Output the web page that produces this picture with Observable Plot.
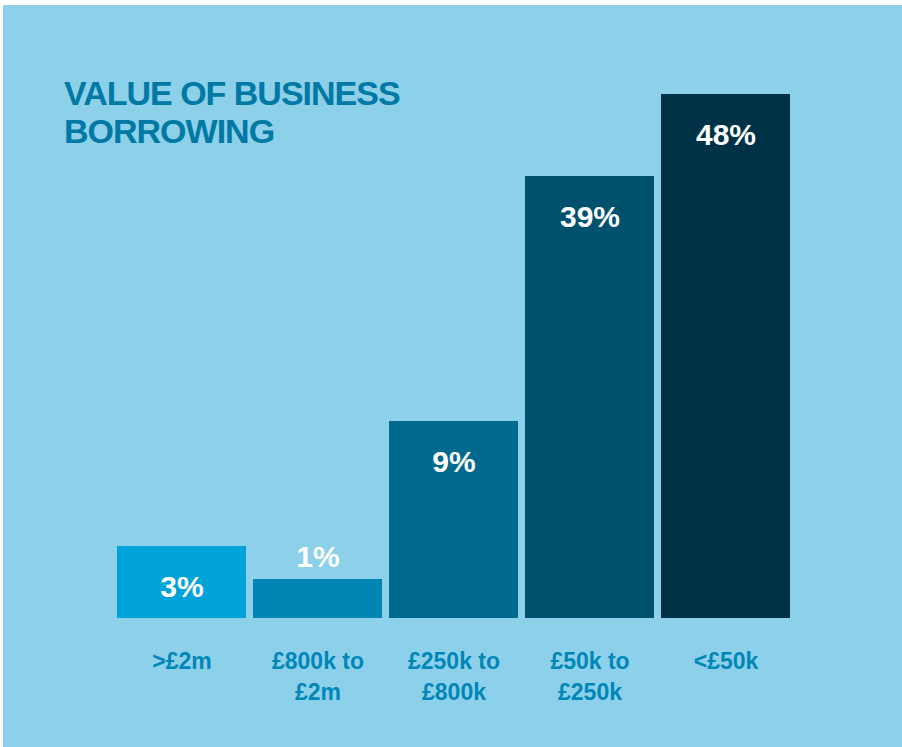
<!DOCTYPE html>
<html>
<head>
<meta charset="utf-8">
<script src="https://cdn.jsdelivr.net/npm/d3@7"></script>
<script src="https://cdn.jsdelivr.net/npm/@observablehq/plot@0.6"></script>
<style>
  html, body { margin: 0; padding: 0; background: #ffffff; }
  #wrap { position: relative; width: 902px; height: 747px; overflow: hidden; }
  #panel { position: absolute; left: 3px; top: 5px; width: 899px; height: 742px; background: #8dd0ea; }
  #title { position: absolute; left: 64px; top: 74px; margin: 0;
    font-family: "Liberation Sans", Arial, sans-serif; font-weight: bold;
    font-size: 34px; line-height: 38px; letter-spacing: -1px; color: #0079a4; }
  #chart { position: absolute; left: 0; top: 0; }
</style>
</head>
<body>
<div id="wrap">
  <div id="panel"></div>
  <div id="chart"></div>
  <h1 id="title">VALUE OF BUSINESS<br>BORROWING</h1>
</div>
<script>
// Categories (left to right) as printed under the bars
const categories = [">£2m", "£800k to\n£2m", "£250k to\n£800k", "£50k to\n£250k", "<£50k"];
// Share of business borrowing (%) printed on the bars
const shares = [3, 1, 9, 39, 48];
// Drawn bar lengths (the bars are not drawn to the printed values)
const barLengths = [72, 39, 197, 442, 524];
// Bar fill colours, light to dark
const barColors = ["#00a3d9", "#0085b5", "#006a8e", "#00516e", "#003247"];

const data = categories.map((c, i) => ({
  category: c,
  share: shares[i],
  length: barLengths[i],
  color: barColors[i]
}));

const valueFont = {
  fill: "white",
  fontFamily: "Liberation Sans, Arial, sans-serif",
  fontWeight: "bold",
  fontSize: 30
};

const chart = Plot.plot({
  width: 902,
  height: 747,
  marginTop: 0, marginBottom: 0, marginLeft: 0, marginRight: 0,
  style: { background: "transparent", overflow: "visible" },
  x: { domain: categories, range: [116, 790], paddingInner: 0.052, paddingOuter: 0, axis: null },
  y: { domain: [0, 524], range: [618, 94], axis: null },
  marks: [
    Plot.barY(data, { x: "category", y: "length", fill: "color" }),
    // value labels: inside the bar near its top
    Plot.text(data, {
      x: "category", y: "length",
      text: d => d.share + "%",
      filter: d => d.length > 60,
      dy: 41,
      ...valueFont
    }),
    // ...or above the bar when it is too short
    Plot.text(data, {
      x: "category", y: "length",
      text: d => d.share + "%",
      filter: d => d.length <= 60,
      dy: -22,
      ...valueFont
    }),
    // category labels under the bars
    Plot.text(data, {
      x: "category", y: () => 0,
      text: "category",
      lineAnchor: "top",
      lineHeight: 1.33,
      dy: 29,
      fill: "#0087b8",
      fontFamily: "Liberation Sans, Arial, sans-serif",
      fontWeight: "bold",
      fontSize: 23
    })
  ]
});
document.getElementById("chart").appendChild(chart);
</script>
</body>
</html>
